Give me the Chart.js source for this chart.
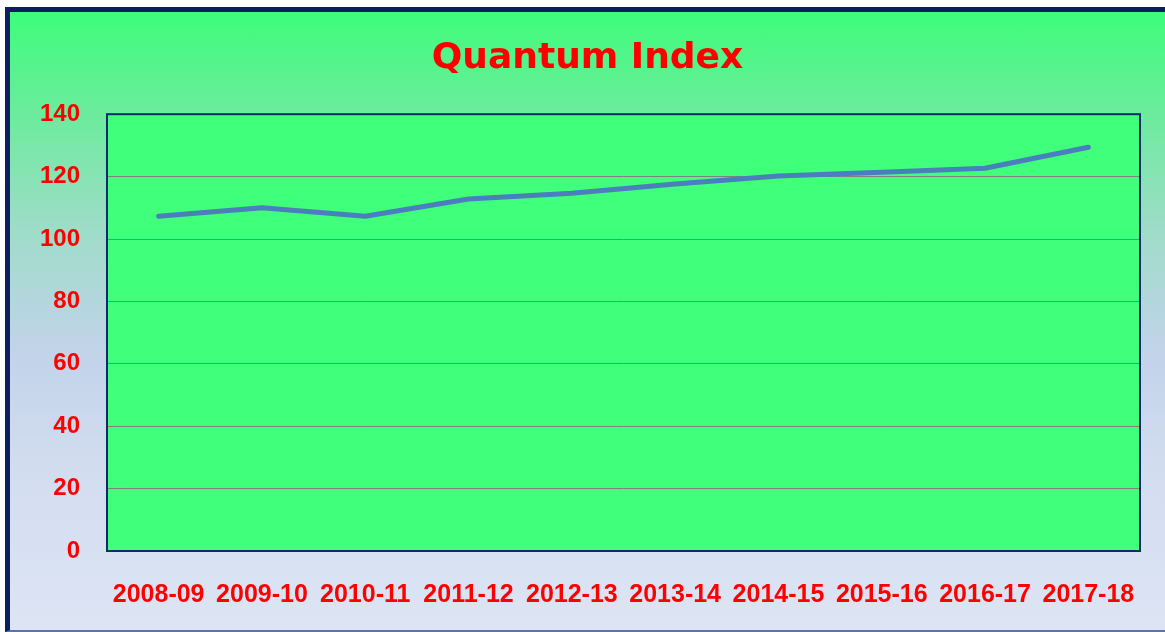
<!DOCTYPE html>
<html>
<head>
<meta charset="utf-8">
<script src="https://cdn.jsdelivr.net/npm/chart.js@4"></script>
<style>
  html, body { margin: 0; padding: 0; background: #fff; }
  #frame {
    position: absolute; left: 5px; top: 7px; width: 1165px; height: 625px;
    box-sizing: border-box;
    border-left: 5px solid #0b1f5e; border-top: 5px solid #0b1f5e;
    border-bottom: 2px solid #5a74a6;
    background: linear-gradient(to bottom, #3efd7a 0%, #6deb9e 17%, #9edcc8 35%, #c2d3ea 55%, #d3ddf0 75%, #dde5f4 100%);
  }
  #wrap { position: absolute; left: 0; top: 0; width: 1165px; height: 632px; }
</style>
</head>
<body>
<div id="frame"></div>
<div id="wrap"><canvas id="grafico"></canvas></div>
<script>
// dados
const anos = ["2008-09", "2009-10", "2010-11", "2011-12", "2012-13",
              "2013-14", "2014-15", "2015-16", "2016-17", "2017-18"];
const indice = [107.3, 110, 107.3, 112.8, 114.7, 117.6, 120.2, 121.4, 122.7, 129.4];
const yTicks = [0, 20, 40, 60, 80, 100, 120, 140];

// fundo verde e moldura da área do gráfico
const areaPlot = {
  id: "areaPlot",
  beforeDraw(chart) {
    const { ctx, chartArea: a } = chart;
    ctx.save();
    ctx.fillStyle = "#40ff7a";
    ctx.fillRect(a.left, a.top, a.right - a.left, a.bottom - a.top);
    ctx.restore();
  },
  afterDraw(chart) {
    const { ctx, chartArea: a } = chart;
    ctx.save();
    ctx.strokeStyle = "#0e2a6a";
    ctx.lineWidth = 2;
    ctx.strokeRect(a.left, a.top, a.right - a.left, a.bottom - a.top);
    ctx.restore();
  }
};

document.addEventListener("DOMContentLoaded", function() {
  new Chart(document.getElementById("grafico"), {
    type: "line",
    data: {
      labels: anos,
      datasets: [{
        label: "Quantum Index",
        data: indice,
        borderColor: "#4a7ebf",
        borderWidth: 5,
        borderCapStyle: "round",
        borderJoinStyle: "round",
        pointRadius: 0,
        tension: 0
      }]
    },
    options: {
      responsive: true,
      maintainAspectRatio: false,
      animation: false,
      layout: { padding: { left: 35, right: 25, top: 0, bottom: 11 } },
      plugins: {
        legend: { display: false },
        tooltip: { enabled: false },
        title: {
          display: true,
          text: "Quantum Index",
          color: "#ff0000",
          font: { family: "DejaVu Sans", size: 36, weight: "bold" },
          padding: { top: 37, bottom: 34 }
        }
      },
      scales: {
        x: {
          offset: true,
          grid: { display: false, drawTicks: false },
          border: { display: false },
          ticks: {
            color: "#ff0000",
            padding: 29,
            maxRotation: 0,
            autoSkip: false,
            font: { family: "Liberation Sans", size: 25, weight: "bold" }
          },
          afterFit(s) { s.height = 70; }
        },
        y: {
          min: 0,
          max: 140,
          afterBuildTicks(s) { s.ticks = yTicks.map(v => ({ value: v })); },
          grid: { color: "#808080", lineWidth: 1, drawTicks: false },
          border: { display: false },
          ticks: {
            color: "#ff0000",
            padding: 27,
            font: { family: "Liberation Sans", size: 24, weight: "bold" }
          },
          afterFit(s) { s.width = 72; }
        }
      }
    },
    plugins: [areaPlot]
  });
});
</script>
</body>
</html>
